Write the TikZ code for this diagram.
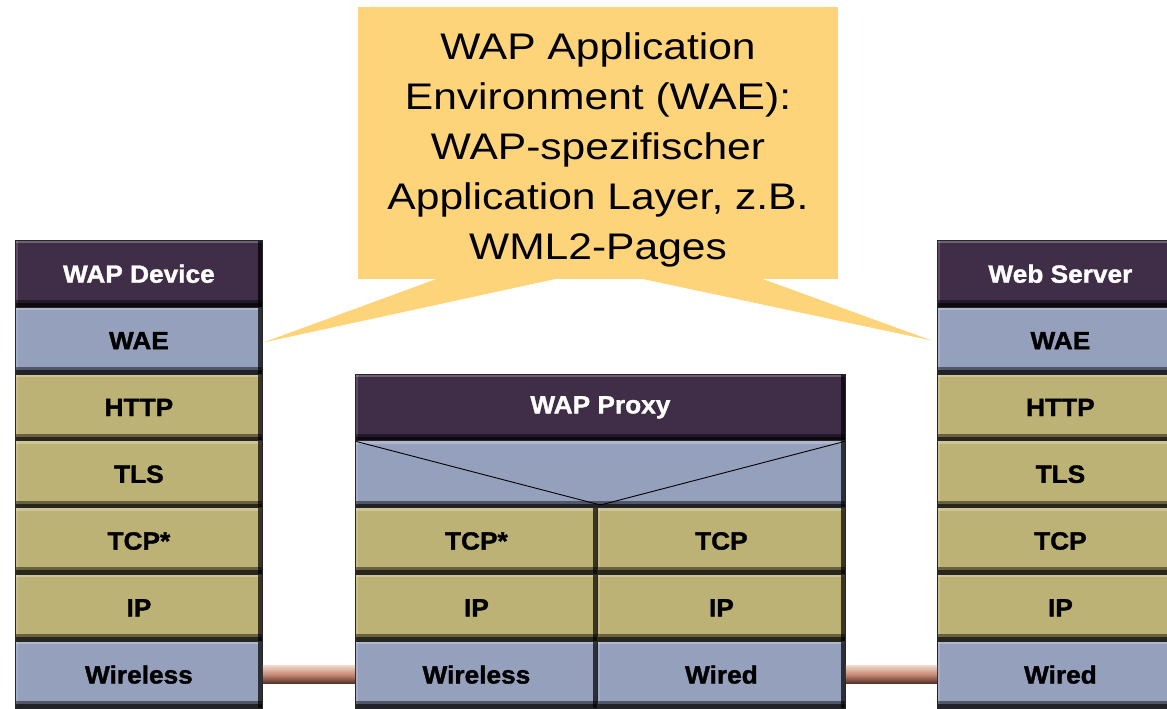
\documentclass[tikz,border=0pt]{standalone}
\usepackage{fontspec}
\setmainfont{Liberation Sans}
\newfontfamily\callfont[FakeStretch=1.15]{Liberation Sans}
\newfontfamily\cellfont[FakeStretch=1.05, BoldFeatures={FakeBold=1.3}]{Liberation Sans}
\definecolor{hdr}{RGB}{64,45,72}
\definecolor{blu}{RGB}{149,160,189}
\definecolor{olv}{RGB}{189,178,118}
\definecolor{cfill}{RGB}{254,212,122}
\definecolor{barhi}{RGB}{240,212,200}
\definecolor{barmid}{RGB}{198,138,116}
\definecolor{barlo}{RGB}{82,46,36}
\tikzset{
  cell/.style={draw=black!85, line width=0.8pt, inner sep=0pt, anchor=north west,
    minimum height=66.8pt,
    font=\cellfont\bfseries\fontsize{25}{30}\selectfont,
    path picture={
      \fill[white,opacity=.25] (path picture bounding box.north west) rectangle ([yshift=-3pt]path picture bounding box.north east);
      \fill[white,opacity=.15] (path picture bounding box.north west) rectangle ([xshift=3pt]path picture bounding box.south west);
      \fill[black,opacity=.45] ([yshift=7pt]path picture bounding box.south west) rectangle (path picture bounding box.south east);
      \fill[black,opacity=.6] ([yshift=4pt]path picture bounding box.south west) rectangle (path picture bounding box.south east);
      \fill[black,opacity=.7] ([xshift=-4pt]path picture bounding box.north east) rectangle (path picture bounding box.south east);
    }},
  hdrcell/.style={cell, fill=hdr, text=white},
  bluecell/.style={cell, fill=blu},
  olvcell/.style={cell, fill=olv},
  callbox/.style={fill=cfill, inner sep=0pt, anchor=north west},
  calltext/.style={inner sep=0pt, anchor=north, align=center,
    font=\callfont\fontsize{37}{50}\selectfont},
  link/.style={top color=barhi, bottom color=barlo, middle color=barmid},
}
\begin{document}
\begin{tikzpicture}[x=1pt,y=-1pt]
\useasboundingbox (0,0) rectangle (1167,709);
\clip (0,0) rectangle (1167,709);

% WAP device stack
\node[hdrcell, minimum width=247pt] (dhdr) at (15,240) {WAP Device};
\node[bluecell, minimum width=247pt] (dwae) at (15,306.8) {WAE};
\node[olvcell, minimum width=247pt] (dhttp) at (15,373.6) {HTTP};
\node[olvcell, minimum width=247pt] (dtls) at (15,440.4) {TLS};
\node[olvcell, minimum width=247pt] (dtcp) at (15,507.2) {TCP*};
\node[olvcell, minimum width=247pt] (dip) at (15,574) {IP};
\node[bluecell, minimum width=247pt] (dwl) at (15,640.8) {Wireless};

% WAP proxy stack
\node[hdrcell, minimum width=490pt] (phdr) at (355,373.6) {WAP Proxy};
\node[bluecell, minimum width=490pt] (pv) at (355,440.4) {};
\draw[black, line width=0.9pt] ([xshift=1pt,yshift=-1pt]pv.north west) -- ([yshift=3pt]pv.south) -- ([xshift=-1pt,yshift=-1pt]pv.north east);
\node[olvcell, minimum width=242pt] (ptcpa) at (355,507.2) {TCP*};
\node[olvcell, minimum width=248pt] (ptcpb) at (597,507.2) {TCP};
\node[olvcell, minimum width=242pt] (pipa) at (355,574) {IP};
\node[olvcell, minimum width=248pt] (pipb) at (597,574) {IP};
\node[bluecell, minimum width=242pt] (pwla) at (355,640.8) {Wireless};
\node[bluecell, minimum width=248pt] (pwlb) at (597,640.8) {Wired};

% Web server stack
\node[hdrcell, minimum width=246pt] (shdr) at (937,240) {Web Server};
\node[bluecell, minimum width=246pt] (swae) at (937,306.8) {WAE};
\node[olvcell, minimum width=246pt] (shttp) at (937,373.6) {HTTP};
\node[olvcell, minimum width=246pt] (stls) at (937,440.4) {TLS};
\node[olvcell, minimum width=246pt] (stcp) at (937,507.2) {TCP};
\node[olvcell, minimum width=246pt] (sip) at (937,574) {IP};
\node[bluecell, minimum width=246pt] (swl) at (937,640.8) {Wired};

% physical links
\shade[link] ([yshift=9pt]dwl.east) rectangle ([yshift=-9pt]pwla.west);
\shade[link] ([yshift=9pt]pwlb.east) rectangle ([yshift=-9pt]swl.west);

% callout
\node[callbox, minimum width=480pt, minimum height=272pt] (call) at (358,7) {};
\fill[cfill] ([xshift=80pt,yshift=1pt]call.south west) -- ([yshift=-2pt]dwae.east) -- ([xshift=200pt,yshift=1pt]call.south west) -- cycle;
\fill[cfill] ([xshift=282pt,yshift=1pt]call.south west) -- ([xshift=-5pt]swae.west) -- ([xshift=403pt,yshift=1pt]call.south west) -- cycle;
\node[calltext] (ctext) at (598,32) {WAP Application\\Environment (WAE):\\WAP-spezifischer\\Application Layer, z.B.\\WML2-Pages};
\end{tikzpicture}
\end{document}
